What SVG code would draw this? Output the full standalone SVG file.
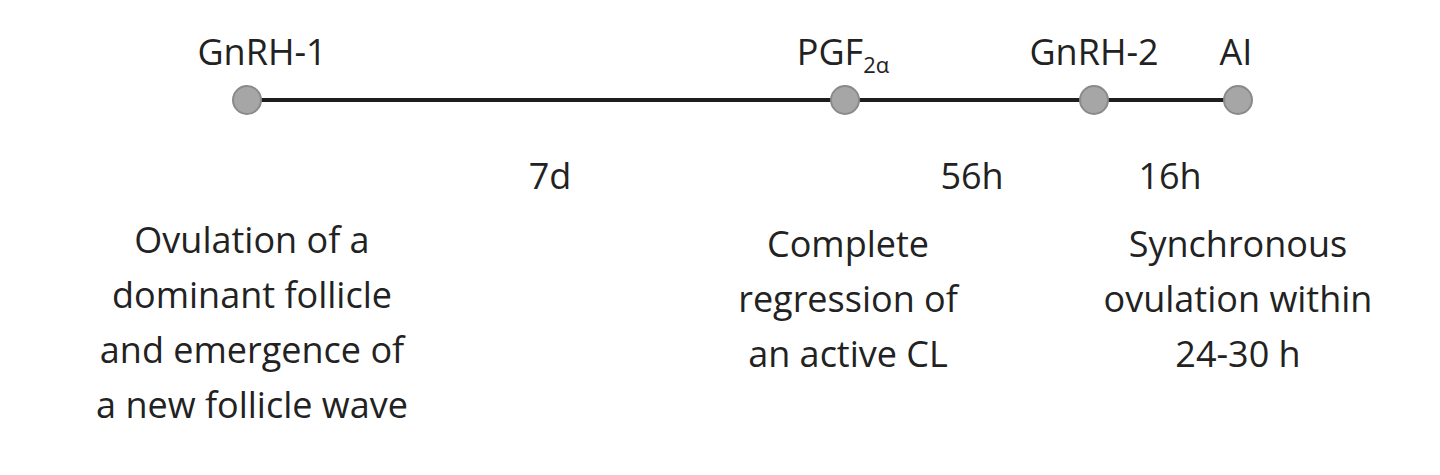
<svg xmlns="http://www.w3.org/2000/svg" width="1440" height="475" viewBox="0 0 1440 475">
<style>
text{font-family:"Open Sans","Liberation Sans",sans-serif;font-size:36px;fill:#222;text-anchor:middle}
.dot{fill:#a6a6a6;stroke:#8a8a8a;stroke-width:2}
.line{stroke:#1e1e1e;stroke-width:4}
</style>
<rect width="1440" height="475" fill="#fff"/>
<g id="connectors">
<line class="line" x1="247" y1="100" x2="1238" y2="100"/>
</g>
<g id="gnrh1">
<circle class="dot" cx="247" cy="100" r="14"/>
<text x="262" y="65">GnRH-1</text>
</g>
<g id="pgf">
<circle class="dot" cx="845" cy="100" r="14"/>
<text x="843" y="65">PGF<tspan font-size="22" dy="8">2α</tspan></text>
</g>
<g id="gnrh2">
<circle class="dot" cx="1094" cy="100" r="14"/>
<text x="1094" y="65">GnRH-2</text>
</g>
<g id="ai">
<circle class="dot" cx="1238" cy="100" r="14"/>
<text x="1236" y="65">AI</text>
</g>
<g id="intervals">
<text x="550" y="189">7d</text>
<text x="972" y="189">56h</text>
<text x="1170" y="189">16h</text>
</g>
<g id="desc1">
<text x="252" y="253">Ovulation of a</text>
<text x="252" y="308">dominant follicle</text>
<text x="252" y="363">and emergence of</text>
<text x="252" y="418">a new follicle wave</text>
</g>
<g id="desc2">
<text x="848" y="257">Complete</text>
<text x="848" y="312">regression of</text>
<text x="848" y="367">an active CL</text>
</g>
<g id="desc3">
<text x="1238" y="257">Synchronous</text>
<text x="1238" y="312">ovulation within</text>
<text x="1238" y="367">24-30 h</text>
</g>
</svg>
